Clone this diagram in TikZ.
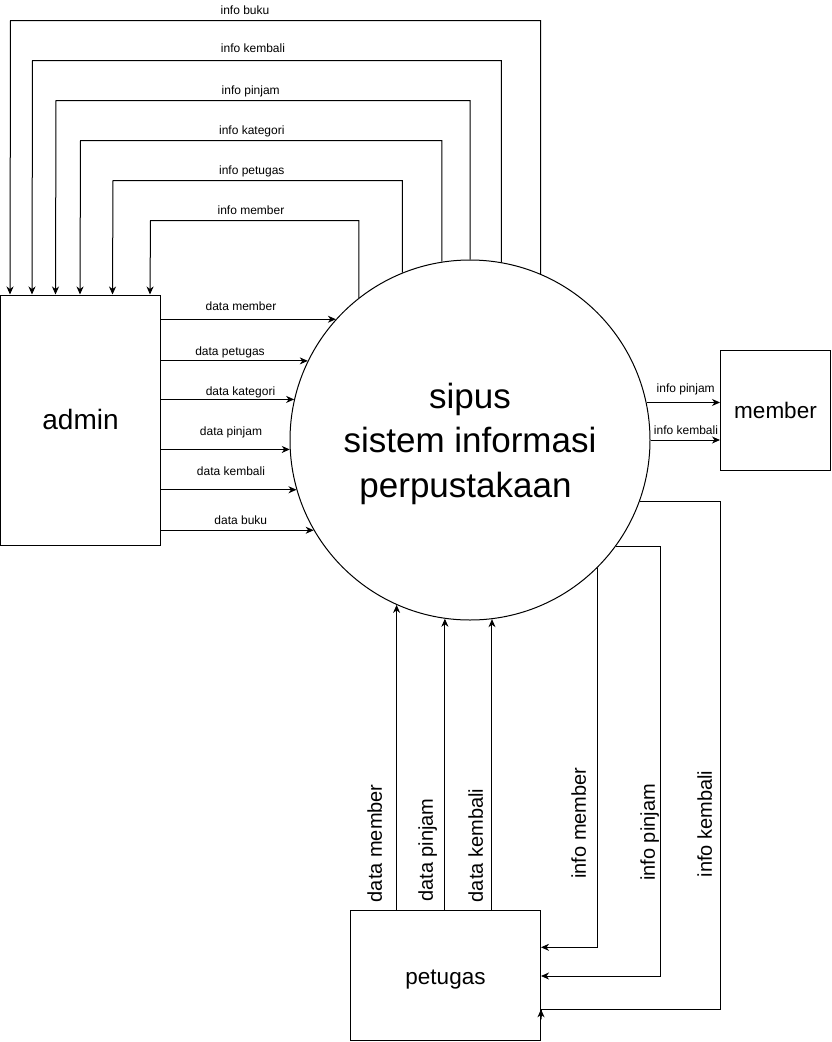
\documentclass[tikz,border=0pt]{standalone}
\usepackage{fontspec}
\setmainfont{Liberation Sans}
\usetikzlibrary{arrows.meta}
\begin{document}
\begin{tikzpicture}[x=1pt,y=-1pt,
  flow/.style={draw=black, line width=1pt, -{Stealth[length=8pt,width=7pt,inset=2.5pt]}},
  ent/.style={draw=black, line width=1pt, rectangle, inner sep=0pt},
  proc/.style={draw=black, circle, line width=1pt, minimum size=360pt, inner sep=0pt},
  lbl/.style={font=\fontsize{12}{14}\selectfont, inner sep=0pt, text height=10.8pt, text depth=2.5pt},
  vlbl/.style={font=\fontsize{20}{24}\selectfont, inner sep=0pt, rotate=90, text height=18pt, text depth=4.2pt}
]
\useasboundingbox (0,0) rectangle (832,1042);
\fill[white] (0,0) rectangle (832,1042);

% entities
\node[ent, minimum width=160pt, minimum height=250pt, font=\fontsize{28}{34}\selectfont, text height=25.2pt, text depth=5.9pt] (admin) at (80.5,420) {admin};
\node[ent, minimum width=110pt, minimum height=119.5pt, font=\fontsize{22.5}{27}\selectfont, text height=20.25pt, text depth=4.7pt] (member) at (775.5,410.25) {member};
\node[ent, minimum width=190pt, minimum height=129.5pt, font=\fontsize{22.5}{27}\selectfont, text height=20.25pt, text depth=2.25pt] (petugas) at (445.5,975.25) {petugas};
\node[proc] (sys) at (470,440) {};
\node[font=\fontsize{35}{44.7}\selectfont, align=center, inner sep=0pt] (systxt) at (470,443.7) {sipus\\sistem informasi\\perpustakaan\kern9pt};

% top flows to admin
\draw[flow] (sys.67.11) |- (10.5,20.5) -- ([xshift=10pt]admin.north west);
\draw[flow] (sys.80.41) |- (32.5,60.5) -- ([xshift=32pt]admin.north west);
\draw[flow] (sys.90) |- (56,100.5) -- ([xshift=55.5pt]admin.north west);
\draw[flow] (sys.99.59) |- (80.5,140.5) -- ([xshift=80pt]admin.north west);
\draw[flow] (sys.112.89) |- (113,180.5) -- ([xshift=112.5pt]admin.north west);
\draw[flow] (sys.128.07) |- (150.5,220.5) -- ([xshift=150pt]admin.north west);

\node[lbl] (l1) at (245,10.7) {info buku};
\node[lbl] (l2) at (253,48.7) {info kembali};
\node[lbl] (l3) at (250.7,90.7) {info pinjam};
\node[lbl] (l4) at (251.8,130.7) {info kategori};
\node[lbl] (l5) at (251.8,170.7) {info petugas};
\node[lbl] (l6) at (251,210.7) {info member};

% admin to system
\draw[flow] (admin.east |- sys.138.61) -- (sys.138.61);
\draw[flow] (admin.east |- sys.154.67) -- (sys.154.67);
\draw[flow] (admin.east |- sys.167.81) -- (sys.167.81);
\draw[flow] (admin.east |- sys.183.50) -- (sys.183.50);
\draw[flow] (admin.east |- sys.196.46) -- (sys.196.46);
\draw[flow] (admin.east |- sys.210) -- (sys.210);

\node[lbl] (d1) at (241,306) {data member};
\node[lbl] (d2) at (230,351) {data petugas};
\node[lbl] (d3) at (240.5,391) {data kategori};
\node[lbl] (d4) at (231,431) {data pinjam};
\node[lbl] (d5) at (231,471) {data kembali};
\node[lbl] (d6) at (240.8,520.7) {data buku};

% system to member
\draw[flow] (sys.12.84) -- (member.west |- sys.12.84);
\draw[flow] (sys.0) -- (member.west |- sys.0);
\node[lbl] (m1) at (685.7,388) {info pinjam};
\node[lbl] (m2) at (686,430.7) {info kembali};

% petugas to system
\draw[flow] (petugas.north -| sys.246.07) -- (sys.246.07);
\draw[flow] (petugas.north -| sys.262.34) -- (sys.262.34);
\draw[flow] (petugas.north -| sys.277.34) -- (sys.277.34);

% system to petugas
\draw[flow] (sys.315) |- (petugas.east |- 0,947.3);
\draw[flow] (sys.324.59) -| (660.5,976) -- (petugas.east |- 0,976);
\draw[flow] (sys.340.53) -| (720.5,1009.3) -- (petugas.east |- 0,1009.3) -- ++(0,10) -- ++(0,-10);

\node[vlbl] (v1) at (375,843.3) {data member};
\node[vlbl] (v2) at (426,850) {data pinjam};
\node[vlbl] (v3) at (476,845.5) {data kembali};
\node[vlbl] (v4) at (579,823) {info member};
\node[vlbl] (v5) at (648,832.5) {info pinjam};
\node[vlbl] (v6) at (705,824) {info kembali};
\end{tikzpicture}
\end{document}
